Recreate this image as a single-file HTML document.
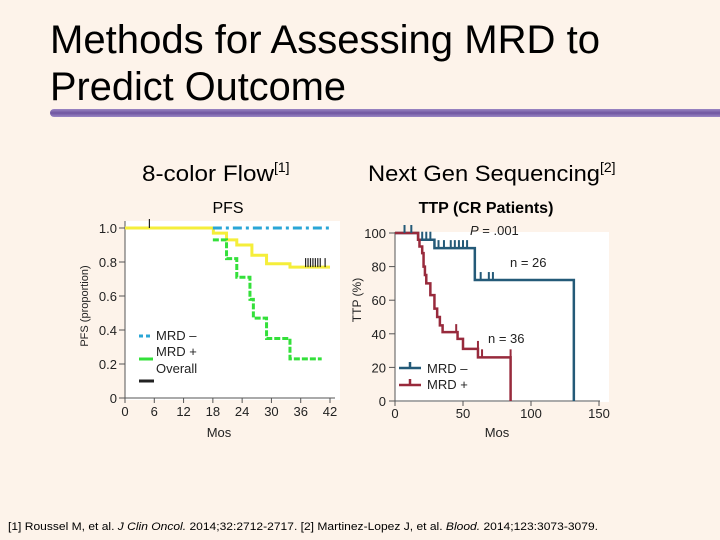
<!DOCTYPE html>
<html><head><meta charset="utf-8"><style>
html,body{margin:0;padding:0}
body{width:720px;height:540px;background:#fdf3ea;font-family:"Liberation Sans",sans-serif;overflow:hidden}
svg{display:block}
</style></head><body>
<svg width="720" height="540" viewBox="0 0 720 540">
<defs><linearGradient id="pg" x1="0" y1="0" x2="0" y2="1"><stop offset="0" stop-color="#9a86c4"/><stop offset="0.5" stop-color="#6f55a0"/><stop offset="1" stop-color="#9a86c4"/></linearGradient></defs>
<text x="50" y="53" font-size="40" textLength="550" lengthAdjust="spacingAndGlyphs" fill="#000">Methods for Assessing MRD to</text>
<text x="50" y="100" font-size="40" textLength="296" lengthAdjust="spacingAndGlyphs" fill="#000">Predict Outcome</text>
<rect x="50" y="109" width="680" height="8" rx="4" fill="url(#pg)"/>
<text x="142" y="181" font-size="22"><tspan textLength="132" lengthAdjust="spacingAndGlyphs">8-color Flow</tspan><tspan font-size="14" dy="-9">[1]</tspan></text>
<text x="368" y="181" font-size="22"><tspan textLength="232" lengthAdjust="spacingAndGlyphs">Next Gen Sequencing</tspan><tspan font-size="14" dy="-9">[2]</tspan></text>
<text x="228" y="213" font-size="16" text-anchor="middle">PFS</text>
<text x="486" y="213" font-size="16" font-weight="bold" text-anchor="middle">TTP (CR Patients)</text>
<g id="left"></g>
<g id="right"></g>
<text x="8" y="530" font-size="11" textLength="590" lengthAdjust="spacingAndGlyphs">[1] Roussel M, et al. <tspan font-style="italic">J Clin Oncol.</tspan> 2014;32:2712-2717. [2] Martinez-Lopez J, et al. <tspan font-style="italic">Blood.</tspan> 2014;123:3073-3079.</text>
</svg>
<script>
// PFS chart data
const pfsXTicks=[0,6,12,18,24,30,36,42];
const pfsYTicks=[0,0.2,0.4,0.6,0.8,1.0];
const pfsYLabels=["0","0.2","0.4","0.6","0.8","1.0"];
const overallT=[0,18.1,20.8,22.9,26,29,33.8,42];
const overallS=[1.0,0.97,0.93,0.90,0.84,0.79,0.77,0.77];
const mrdNegT=[18,42];
const mrdNegS=[1.0,1.0];
const mrdPosT=[18,20.8,22.9,25.6,26.3,29,33.8,40.3];
const mrdPosS=[0.93,0.82,0.71,0.58,0.47,0.35,0.23,0.23];
const overallCens=[5,37,37.5,38,38.5,39,39.5,40,41];
// TTP chart data
const ttpXTicks=[0,50,100,150];
const ttpYTicks=[0,20,40,60,80,100];
const negT=[0,17,29,58.7,131.5,131.5];
const negS=[100,96,91,72,72,0];
const posT=[0,17,18,20,21,22,23,26,29,31,33,35,37,46,50,61,85,85];
const posS=[100,96,92,88,80,75,70,63,55,50,45,41,41,37,31,26,26,0];
const negCens=[7,12,20,23,26,32,36,41,44,47,50,53,63,69,72];
const posCens=[45,61,64,85];

const NS="http://www.w3.org/2000/svg";
function mk(tag,attrs,parent,name,txt){
  const e=document.createElementNS(NS,tag);
  for(const k in attrs)e.setAttribute(k,attrs[k]);
  
  
  if(txt!==undefined)e.textContent=txt;
  parent.appendChild(e);return e;
}
function stepPath(T,S,x,y){
  let d="M"+x(T[0])+","+y(S[0]);
  for(let i=1;i<T.length;i++){d+=" H"+x(T[i])+" V"+y(S[i]);}
  return d;
}
// Left
const L=document.getElementById('left');
const lx=t=>125+t*(205/42), ly=v=>398-v*170;
mk('rect',{x:125,y:221,width:215,height:179,fill:"#fff"},L,'pfs-plot-area');
mk('line',{x1:125,y1:221,x2:125,y2:400,stroke:"#555","stroke-width":1},L,'pfs-y-axis');
mk('line',{x1:125,y1:398,x2:335,y2:398,stroke:"#555","stroke-width":1},L,'pfs-x-axis');
pfsYTicks.forEach((v,i)=>{
  mk('line',{x1:119,x2:125,y1:ly(v),y2:ly(v),stroke:"#555"},L,'pfs-y-tick');
  mk('text',{x:117,y:ly(v)+5,"font-size":13,"text-anchor":"end",fill:"#222"},L,'pfs-y-tick-label',pfsYLabels[i]);
});
pfsXTicks.forEach(t=>{
  mk('line',{x1:lx(t),x2:lx(t),y1:398,y2:403,stroke:"#555"},L,'pfs-x-tick');
  mk('text',{x:lx(t),y:416,"font-size":13,"text-anchor":"middle",fill:"#222"},L,'pfs-x-tick-label',String(t));
});
mk('text',{x:219,y:437,"font-size":13,"text-anchor":"middle",fill:"#222"},L,'pfs-x-axis-title','Mos');
mk('text',{x:0,y:0,"font-size":11,"text-anchor":"middle",fill:"#222",transform:"translate(88,306) rotate(-90)"},L,'pfs-y-axis-title','PFS (proportion)');
mk('path',{d:stepPath(overallT,overallS,lx,ly),fill:"none",stroke:"#f5ee3a","stroke-width":3},L,'overall-line');
mk('path',{d:stepPath(mrdPosT,mrdPosS,lx,ly),fill:"none",stroke:"#33e03a","stroke-width":3,"stroke-dasharray":"6,2"},L,'mrd-pos-line');
mk('path',{d:stepPath(mrdNegT,mrdNegS,lx,ly),fill:"none",stroke:"#2aa6d6","stroke-width":3,"stroke-dasharray":"9,4,3,4"},L,'mrd-neg-line');
overallCens.forEach(t=>{const yy=ly(t<18?1.0:0.77);mk('line',{x1:lx(t),x2:lx(t),y1:yy-9,y2:yy,stroke:"#222","stroke-width":1.2},L,'overall-censor');});
mk('line',{x1:139,x2:153,y1:336,y2:336,stroke:"#2aa6d6","stroke-width":3,"stroke-dasharray":"4,3"},L,'legend-mrd-neg-swatch');
mk('text',{x:156,y:340,"font-size":13,fill:"#222"},L,'legend-mrd-neg','MRD –');
mk('line',{x1:139,x2:153,y1:359,y2:359,stroke:"#33e03a","stroke-width":3},L,'legend-mrd-pos-swatch');
mk('text',{x:156,y:356,"font-size":13,fill:"#222"},L,'legend-mrd-pos','MRD +');
mk('text',{x:156,y:373,"font-size":13,fill:"#222"},L,'legend-overall','Overall');
mk('line',{x1:139,x2:154,y1:381,y2:381,stroke:"#222","stroke-width":3},L,'legend-overall-swatch');
// Right
const R=document.getElementById('right');
const rx=t=>395+t*(204/150), ry=v=>401-v*1.68;
mk('rect',{x:395,y:232,width:214,height:170,fill:"#fff"},R,'ttp-plot-area');
mk('line',{x1:395,y1:232,x2:395,y2:402,stroke:"#555"},R,'ttp-y-axis');
mk('line',{x1:395,y1:401,x2:600,y2:401,stroke:"#555"},R,'ttp-x-axis');
ttpYTicks.forEach(v=>{
  mk('line',{x1:389,x2:395,y1:ry(v),y2:ry(v),stroke:"#555"},R,'ttp-y-tick');
  mk('text',{x:386,y:ry(v)+5,"font-size":13,"text-anchor":"end",fill:"#222"},R,'ttp-y-tick-label',String(v));
});
ttpXTicks.forEach(t=>{
  mk('line',{x1:rx(t),x2:rx(t),y1:401,y2:406,stroke:"#555"},R,'ttp-x-tick');
  mk('text',{x:rx(t),y:418,"font-size":13,"text-anchor":"middle",fill:"#222"},R,'ttp-x-tick-label',String(t));
});
mk('text',{x:497,y:437,"font-size":13,"text-anchor":"middle",fill:"#222"},R,'ttp-x-axis-title','Mos');
mk('text',{x:0,y:0,"font-size":12,"text-anchor":"middle",fill:"#222",transform:"translate(361,300) rotate(-90)"},R,'ttp-y-axis-title','TTP (%)');
mk('path',{d:stepPath(negT,negS,rx,ry),fill:"none",stroke:"#245a78","stroke-width":2.5},R,'mrd-neg-line');
mk('path',{d:stepPath(posT,posS,rx,ry),fill:"none",stroke:"#982a3c","stroke-width":2.5},R,'mrd-pos-line');
function lvl(T,S,t){let v=S[0];for(let i=0;i<T.length;i++){if(T[i]<=t)v=S[i];}return v;}
negCens.forEach(t=>{const yy=ry(lvl(negT,negS,t));mk('line',{x1:rx(t),x2:rx(t),y1:yy-8,y2:yy,stroke:"#245a78","stroke-width":2},R,'mrd-neg-censor');});
posCens.forEach(t=>{const yy=ry(lvl(posT,posS,t-0.01));mk('line',{x1:rx(t),x2:rx(t),y1:yy-8,y2:yy,stroke:"#982a3c","stroke-width":2},R,'mrd-pos-censor');});
mk('text',{x:470,y:235,"font-size":13,fill:"#222"},R,'p-value','');
R.lastChild.innerHTML='<tspan font-style="italic">P</tspan> = .001';
mk('text',{x:510,y:267,"font-size":13,fill:"#222"},R,'n-mrd-neg','n = 26');
mk('text',{x:488,y:343,"font-size":13,fill:"#222"},R,'n-mrd-pos','n = 36');
mk('path',{d:"M399,368 H421 M410,362 V368",stroke:"#245a78","stroke-width":2.5,fill:"none"},R,'legend-mrd-neg-swatch');
mk('text',{x:427,y:373,"font-size":13,fill:"#222"},R,'legend-mrd-neg','MRD –');
mk('path',{d:"M399,385 H421 M410,379 V385",stroke:"#982a3c","stroke-width":2.5,fill:"none"},R,'legend-mrd-pos-swatch');
mk('text',{x:427,y:389,"font-size":13,fill:"#222"},R,'legend-mrd-pos','MRD +');
</script>
</body></html>
